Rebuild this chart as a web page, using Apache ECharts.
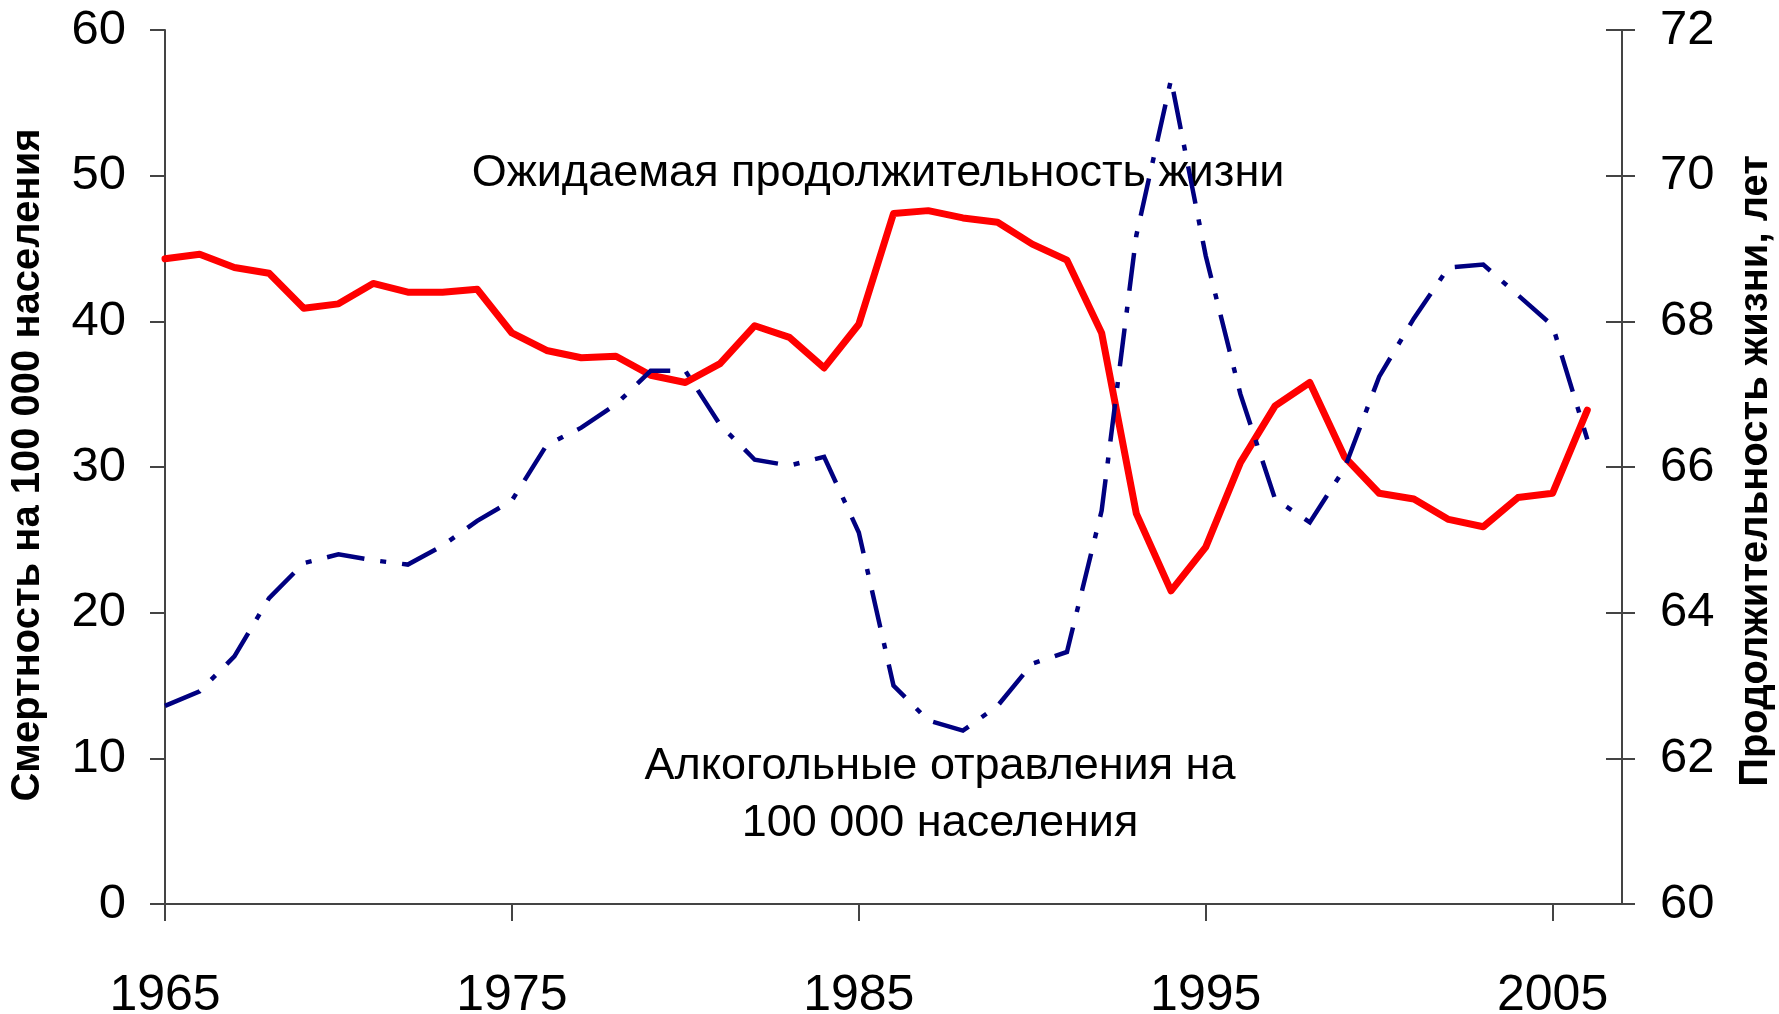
<!DOCTYPE html>
<html>
<head>
<meta charset="utf-8">
<script src="https://cdn.jsdelivr.net/npm/echarts@6/dist/echarts.min.js"></script>
<style>html,body{margin:0;padding:0;background:#fff}#c{width:1779px;height:1014px}</style>
</head>
<body>
<div id="c"></div>
<script>
const years = [1965,1966,1967,1968,1969,1970,1971,1972,1973,1974,1975,1976,1977,1978,1979,1980,1981,1982,1983,1984,1985,1986,1987,1988,1989,1990,1991,1992,1993,1994,1995,1996,1997,1998,1999,2000,2001,2002,2003,2004,2005,2006];
const lifeExpectancy = [68.86,68.92,68.74,68.66,68.18,68.24,68.52,68.40,68.40,68.44,67.84,67.60,67.50,67.52,67.26,67.16,67.42,67.94,67.78,67.36,67.96,69.48,69.52,69.42,69.36,69.06,68.84,67.84,65.36,64.30,64.90,66.06,66.84,67.16,66.14,65.64,65.56,65.28,65.18,65.58,65.64,66.78];
const alcoholPoisoning = [13.6,14.6,17.0,21.0,23.4,24.0,23.6,23.3,24.6,26.3,27.7,31.5,32.7,34.3,36.6,36.6,32.9,30.5,30.1,30.7,25.5,15.0,12.6,11.9,13.6,16.5,17.3,27.0,45.9,56.6,44.5,35.0,27.8,26.2,29.9,36.2,40.2,43.7,43.9,41.8,39.7,31.9];
const xTicks = [1965,1975,1985,1995,2005];

const FONT = "'Liberation Sans', Arial, sans-serif";
const chart = echarts.init(document.getElementById('c'), null, {renderer:'canvas'});
const axisColor = '#444';
chart.setOption({
  animation:false,
  backgroundColor:'#fff',
  grid:{left:165, right:157, top:30, bottom:110, containLabel:false, outerBoundsMode:'none'},
  xAxis:{
    type:'value', min:1965, max:2007,
    axisLine:{show:true, onZero:false, lineStyle:{color:axisColor, width:2}},
    axisTick:{show:true, inside:false, length:17, lineStyle:{color:axisColor, width:2}, customValues:xTicks},
    axisLabel:{show:true, margin:67, fontSize:50, fontFamily:FONT, color:'#000', customValues:xTicks, formatter:v=>String(v)},
    splitLine:{show:false}
  },
  yAxis:[
    {type:'value', position:'left', min:0, max:60, interval:10,
     axisLine:{show:true, lineStyle:{color:axisColor, width:2}},
     axisTick:{show:true, inside:false, length:15, lineStyle:{color:axisColor, width:2}},
     axisLabel:{margin:39, fontSize:49, fontFamily:FONT, color:'#000'},
     splitLine:{show:false}},
    {type:'value', position:'right', min:60, max:72, interval:2,
     axisLine:{show:true, lineStyle:{color:axisColor, width:2}},
     axisTick:{show:true, inside:false, length:13, lineStyle:{color:axisColor, width:2}},
     axisLabel:{margin:38, fontSize:49, fontFamily:FONT, color:'#000'},
     splitLine:{show:false}},
    {type:'value', position:'right', min:60, max:72, interval:2,
     axisLine:{show:false},
     axisTick:{show:true, inside:true, length:16, lineStyle:{color:axisColor, width:2}},
     axisLabel:{show:false},
     splitLine:{show:false}}
  ],
  series:[
    {type:'line', name:'Ожидаемая продолжительность жизни', yAxisIndex:1, z:2,
     data:years.map((y,i)=>[y, lifeExpectancy[i]]),
     symbol:'none', lineStyle:{color:'#ff0000', width:7, cap:'round', join:'round'}},
    {type:'line', name:'Алкогольные отравления', yAxisIndex:0, z:3,
     data:years.map((y,i)=>[y, alcoholPoisoning[i]]),
     symbol:'none', lineStyle:{color:'#000080', width:4.5, type:[38,16,6,16], cap:'butt', join:'miter'}}
  ],
  graphic:[
    {type:'text', x:28, y:465, rotation:Math.PI/2,
     style:{text:'Смертность на 100 000 населения', fontSize:40, fontWeight:'bold', fontFamily:FONT, fill:'#000', align:'center', verticalAlign:'middle'}},
    {type:'text', x:1756, y:471, rotation:Math.PI/2,
     style:{text:'Продолжительность жизни, лет', fontSize:40, fontWeight:'bold', fontFamily:FONT, fill:'#000', align:'center', verticalAlign:'middle'}},
    {type:'text', x:878, y:174, z:1,
     style:{text:'Ожидаемая продолжительность жизни', fontSize:45, fontFamily:FONT, fill:'#000', align:'center', verticalAlign:'middle'}},
    {type:'text', x:940, y:795,
     style:{text:'Алкогольные отравления на\n100 000 населения', fontSize:45, lineHeight:57, fontFamily:FONT, fill:'#000', align:'center', verticalAlign:'middle'}}
  ]
});
</script>
</body>
</html>
